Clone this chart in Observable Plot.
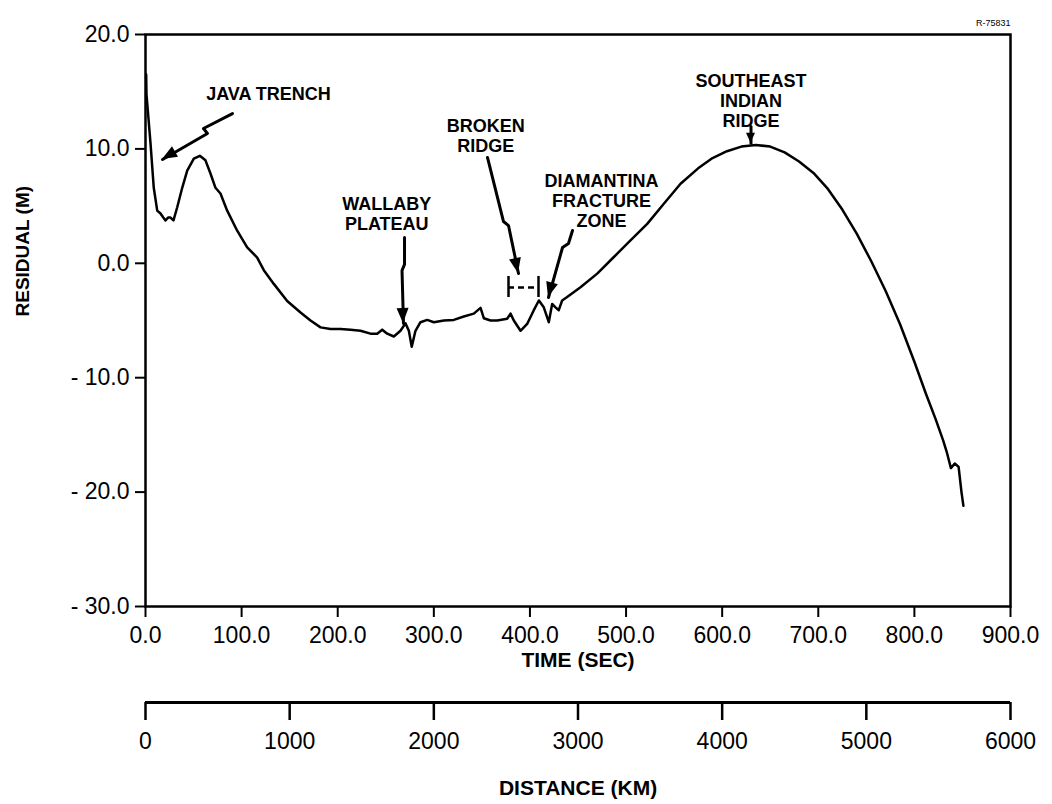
<!DOCTYPE html>
<html>
<head>
<meta charset="utf-8">
<script src="https://cdn.jsdelivr.net/npm/d3@7"></script>
<script src="https://cdn.jsdelivr.net/npm/@observablehq/plot@0.6"></script>
<style>
  html, body { margin: 0; padding: 0; background: #fff; }
  #chart svg { display: block; }
</style>
</head>
<body>
<div id="chart"></div>
<script>
// ---- data ----
const time = [
  0.7, 1.0, 5.2, 8.6, 12.2, 15.6, 18.5, 20.8, 23.5, 26.0,
  29.1, 33.0, 38.2, 43.4, 50.3, 56.5, 62.4, 67.6, 72.8, 78.0,
  85.0, 95.4, 105.8, 116.2, 123.1, 133.5, 147.4, 161.3, 171.7, 182.1,
  192.5, 202.9, 213.3, 223.7, 234.1, 241.1, 246.3, 251.5, 258.4, 265.3,
  270.5, 274.0, 277.0, 280.9, 286.1, 293.1, 300.0, 310.4, 320.8, 331.2,
  341.6, 348.6, 352.0, 359.0, 365.9, 376.3, 379.8, 383.2, 390.2, 397.1,
  404.0, 409.3, 414.4, 419.6, 423.1, 426.6, 430.0, 433.5, 438.7, 452.6,
  470.0, 487.3, 504.6, 522.0, 539.3, 556.7, 575, 590, 605, 620,
  635, 650, 665, 680, 695, 710, 725, 740, 755, 770,
  785, 800, 812, 822, 830, 834, 838, 842, 846, 849,
  851
];
const residual = [
  16.5, 14.8, 10.5, 6.6, 4.6, 4.35, 4.0, 3.75, 4.0, 4.0,
  3.75, 4.9, 6.6, 8.1, 9.15, 9.4, 9.0, 7.85, 6.6, 6.1,
  4.6, 2.85, 1.4, 0.5, -0.6, -1.8, -3.3, -4.3, -5.0, -5.6,
  -5.75, -5.75, -5.8, -5.9, -6.15, -6.15, -5.8, -6.15, -6.4, -5.9,
  -5.25, -5.9, -7.3, -5.9, -5.15, -4.95, -5.15, -5.0, -4.95, -4.65,
  -4.4, -3.9, -4.8, -5.0, -5.0, -4.85, -4.4, -5.0, -5.9, -5.3,
  -4.1, -3.25, -3.85, -5.15, -3.55, -3.85, -4.1, -3.25, -2.95, -2.1,
  -0.9, 0.55, 2.0, 3.45, 5.2, 6.95, 8.3, 9.2, 9.8, 10.2,
  10.35, 10.2, 9.7, 8.9, 7.9, 6.5, 4.7, 2.6, 0.2, -2.4,
  -5.3, -8.6, -11.4, -13.6, -15.5, -16.6, -17.9, -17.5, -17.8, -20.0,
  -21.2
];

const timeTicks = [0, 100, 200, 300, 400, 500, 600, 700, 800, 900];
const residualTicks = [20, 10, 0, -10, -20, -30];
const distanceTicks = [0, 1000, 2000, 3000, 4000, 5000, 6000];
const totalDistanceKm = 6000;   // distance axis spans the same width as
const totalTimeSec = 900;       // the time axis

// annotation labels (data coordinates)
const labelText = ["JAVA TRENCH", "WALLABY\nPLATEAU", "BROKEN\nRIDGE", "DIAMANTINA\nFRACTURE\nZONE", "SOUTHEAST\nINDIAN\nRIDGE"];
const labelX = [128, 251, 354, 474.5, 630];
const labelY = [14.84, 4.35, 11.17, 5.49, 14.2];

// annotation arrows: polylines, last segment carries the head
const arrowId = ["java","java","java","java", "wal","wal","wal","wal", "brk","brk","brk","brk", "dia","dia","dia","dia", "se","se"];
const arrowX  = [90.5, 60.3, 64.5, 17.7,  269.5, 269.5, 266.9, 268.4,  355.8, 372.5, 377.7, 388.1,  444.3, 440.1, 433.9, 419.3,  630, 630];
const arrowY  = [13.09, 11.78, 11.35, 9.07,  2.26, -0.10, -0.63, -5.26,  9.25, 3.65, 3.30, -0.89,  2.87, 1.73, 1.38, -2.99,  11.96, 10.5];

// Broken Ridge extent bracket
const bracketX = [377.7, 408.9];
const bracketTop = -1.15, bracketBottom = -2.99, bracketMid = -2.12;

const figureId = "R-75831";

// ---- build ----
const curve = time.map((t, i) => ({t, r: residual[i]}));
const arrows = arrowX.map((x, i) => ({id: arrowId[i], x, y: arrowY[i]}));
const labels = labelText.map((s, i) => ({s, x: labelX[i], y: labelY[i]}));

function arrowHeads(index, scales) {
  const g = d3.create("svg:g");
  const ids = Array.from(new Set(arrowId));
  for (const id of ids) {
    const pts = arrows.filter(p => p.id === id);
    const a = pts[pts.length - 2], b = pts[pts.length - 1];
    const x0 = scales.x(a.x), y0 = scales.y(a.y), x1 = scales.x(b.x), y1 = scales.y(b.y);
    const len = Math.hypot(x1 - x0, y1 - y0);
    const ux = (x1 - x0) / len, uy = (y1 - y0) / len;
    const L = id === "se" ? 10 : 15, W = id === "se" ? 4.5 : 6;
    const bx = x1 - ux * L, by = y1 - uy * L;
    g.append("polygon")
      .attr("points", [[x1, y1], [bx - uy * W, by + ux * W], [bx + uy * W, by - ux * W]].map(p => p.join(",")).join(" "))
      .attr("fill", "black");
  }
  return g.node();
}

const distToTime = d => d * totalTimeSec / totalDistanceKm;
const fmtY = d => d < 0 ? "- " + (-d).toFixed(1) : d.toFixed(1);

const chart = Plot.plot({
  width: 1052,
  height: 804,
  marginTop: 34,
  marginBottom: 198,
  marginLeft: 145,
  marginRight: 42,
  style: {fontFamily: "'Liberation Sans', Arial, Helvetica, sans-serif", fontSize: "23px", color: "black", background: "white"},
  x: {domain: [0, 900]},
  y: {domain: [-30, 20]},
  marks: [
    Plot.frame({stroke: "black", strokeWidth: 2.5}),
    Plot.axisY({ticks: residualTicks, tickFormat: fmtY, tickSize: 10, tickPadding: 6, strokeWidth: 2, label: null, fontSize: 23}),
    Plot.axisX({ticks: timeTicks, tickFormat: d => d.toFixed(1), tickSize: 11, tickPadding: 9, strokeWidth: 2, label: null, fontSize: 23}),
    // distance axis drawn below, sharing the same horizontal extent
    Plot.ruleY([-30], {dy: 96, stroke: "black", strokeWidth: 3}),
    Plot.axisX({ticks: distanceTicks.map(distToTime), tickFormat: (d, i) => String(distanceTicks[i]), dy: 96, tickSize: 18, tickPadding: 12, strokeWidth: 2.5, label: null, fontSize: 23}),
    Plot.text(["TIME (SEC)"], {x: 450, frameAnchor: "bottom", dy: 60, fontWeight: "bold", fontSize: 21}),
    Plot.text(["DISTANCE (KM)"], {x: 450, frameAnchor: "bottom", dy: 188, fontWeight: "bold", fontSize: 21}),
    Plot.text(["RESIDUAL (M)"], {frameAnchor: "left", rotate: -90, dx: -123, dy: -4, fontWeight: "bold", fontSize: 19}),
    Plot.text([figureId], {frameAnchor: "top-right", textAnchor: "end", dy: -15, fontSize: 9}),
    // data curve
    Plot.line(curve, {x: "t", y: "r", stroke: "black", strokeWidth: 2.5, strokeLinejoin: "round"}),
    // annotations
    Plot.text(labels, {x: "x", y: "y", text: "s", fontWeight: "bold", fontSize: 18, lineHeight: 1.1}),
    Plot.line(arrows, {x: "x", y: "y", z: "id", stroke: "black", strokeWidth: 3}),
    arrowHeads,
    Plot.ruleX(bracketX, {y1: bracketTop, y2: bracketBottom, stroke: "black", strokeWidth: 2.5}),
    Plot.ruleY([bracketMid], {x1: bracketX[0], x2: bracketX[1], stroke: "black", strokeWidth: 2.5, strokeDasharray: "6,4"})
  ]
});
document.getElementById("chart").appendChild(chart);
</script>
</body>
</html>
